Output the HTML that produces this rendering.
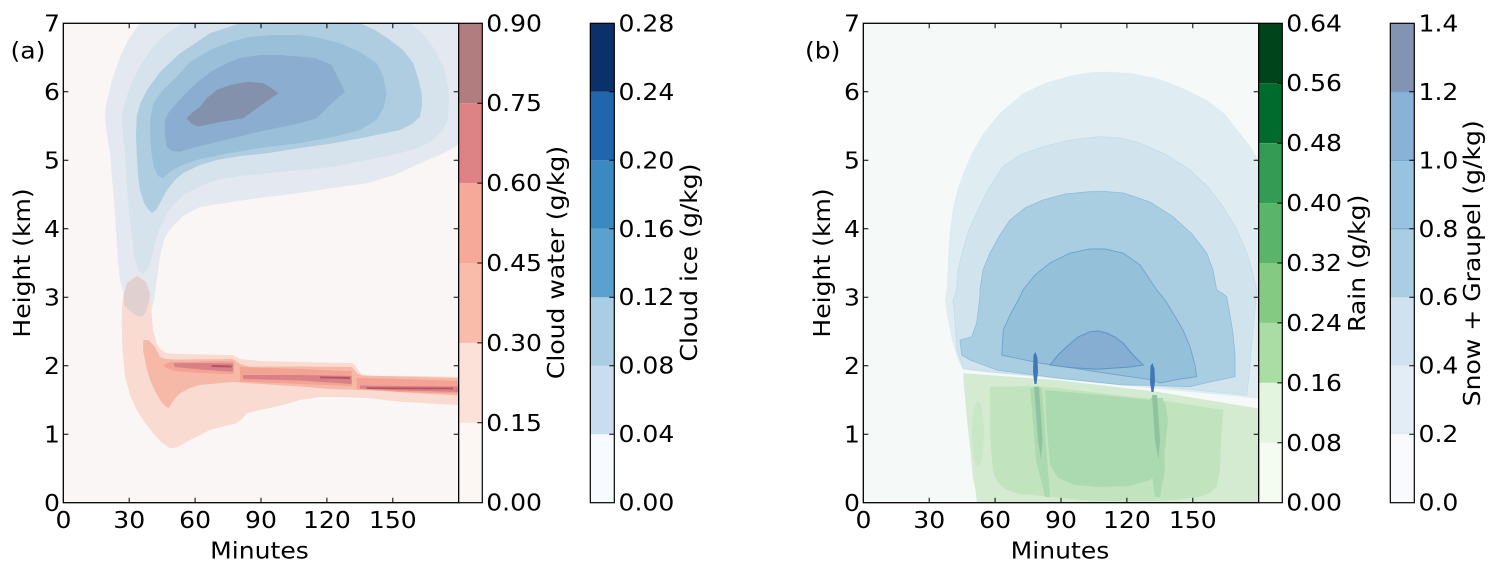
<!DOCTYPE html>
<html><head><meta charset="utf-8"><style>
html,body{margin:0;padding:0;background:#fff;}
svg{display:block;}
text{font-family:"DejaVu Sans","Liberation Sans",sans-serif;font-size:23px;fill:#000;}
</style></head><body>
<svg width="1499" height="572" viewBox="0 0 1499 572" xmlns="http://www.w3.org/2000/svg">
<defs>
<clipPath id="ca"><rect x="63.3" y="23.3" width="395.4" height="479.4"/></clipPath>
<clipPath id="cb"><rect x="863.3" y="23.3" width="395.4" height="479.4"/></clipPath>
</defs>
<rect width="1499" height="572" fill="#fff"/>

<!-- ===== Panel A ===== -->
<g clip-path="url(#ca)">
<rect x="63.3" y="23.3" width="395.4" height="479.4" fill="#faf6f5"/>
<!-- cloud ice -->
<polygon fill="#e4e9f1" points="140,23.3 128,40 120,57 112,80 106,105 105,117 107,135 110,153 113,190 116,230 118,262 120,280 124,295 132,308 140,315 147,317 151,312 154,300 157,280 160,256 164,240 168,232 175,224 183,216 200,207 233,201.7 266.7,197 300,193 333,188 366.7,183.3 395,175 420,163.3 440,155 458.7,145 458.7,23.3"/>
<polygon fill="#d6e2ec" points="181.7,23.3 165,35 150,50 138,70 130,86.7 124,105 121.7,116.7 123,135 125,153 127,190 130,220 134,255 138,270 142.7,274 147,270 151,260 155,243 160,228 167,213 175,203 185,194 193.3,190 205,184 216.7,180 240,176 266.7,173.3 300,170 333.3,166.7 366.7,160 400,153.3 420,147 433,140 443,130 448,120 449,100 448,87 444,68 435,50 425,36 415,27 410,23.3"/>
<polygon fill="#aecde0" points="240,23.3 210,33.3 180,53.3 160,72 147,90 140,104 136.7,116.7 136,135 136.7,153 138,175 140,190 144,203 148,209 152,213 156,210 160,203 167,190 175,180 183,173 200,165 216.7,160 240,156 266.7,153.3 300,148 333.3,143.3 366.7,137 400,130 412,124 420,116.7 422,105 421.7,93.3 418,78 413.3,63.3 403,50 390,40 375,30 360,23.3"/>
<polygon fill="#9abfd8" points="153.3,103.3 150,120 150.5,140 151.7,155 154,167 158,176 163,178 170,172 180,166 200,159 230,153 266.7,147 300,143 333.3,137 360,130 376.7,120 384,107 386.7,93.3 383,76 376.7,63.3 360,52 340,43.3 320,38 300,35 275,35 250,36.7 230,42 210,50 190,62 176.7,76.7 163,90"/>
<polygon fill="#8aadd0" points="165,120 165,133.3 166.7,146.7 172,151 180,151.7 200,146 233.3,138 266.7,130 300,123.3 316.7,118.3 330,105 345,91.7 338,78 331.7,65 315,58 300,56.7 280,55 260,55 240,58 226.7,63.3 212,71 200,80 188,91 176.7,103.3 169,112"/>
<polygon fill="#8391ad" points="186.7,118.3 192,124 198,126.5 220,122 243.3,118.3 260,106 278.3,93.3 270,87 263.3,83.3 246.7,81.7 230,85 216.7,90 207,98 200,106.7 193,112"/>
<!-- cloud water -->
<polygon fill="#fadbd2" points="136.7,275 130,280 124,292 122,305 121.7,326.7 122.5,350 125,376.7 130,395 136.7,410 145,423 153.3,433.3 161,442 170,448.3 177,447.5 186.7,441.7 200,435 210,430 225,426 236.7,423.3 243,418 246.7,413.3 260,410 275,407 290,403 300,400 320,397 340,397 366.7,398 400,401.7 430,403.5 458.7,405 458.7,377 420,376 370,376 361,374 358,370 354,364 351.7,363 300,362 260,361 240,359 233,355 200,354.5 186.7,354.3 166.7,353.3 160,349 156.7,343.3 153,330 151.7,315 150,293 145,281"/>
<polygon fill="#e1d0d0" points="127,283 123.5,296 124,305 130,311 137,316 141.7,316.7 146,312 149,300 150,293 146,282 137,276"/>
<polygon fill="#f7b9a7" points="143.3,340 148.3,340 155,346.7 160,356.7 165,359 175,359.5 233,359 240,364 250,366.7 300,366.5 345,367 352,367 357,373 362,375.5 400,376.5 458.7,378 458.7,395.5 430,394 400,392 360,390 330,389 300,386.5 260,384 233,382 200,385 190,388 180,393.3 174,400 170,406 168.3,408.3 164,405 160,400 155,391 150,380 146.5,368 145,360 143,350"/>
<g fill="#f4a293">
<polygon points="163.3,365 170,362 200,361.5 233.3,361 233.3,374 200,373 175,371 166,368"/>
<polygon points="240,367 300,369 351.7,371 351.7,386 300,384 240,381.5"/>
<polygon points="356.7,378 400,379 458.7,381 458.7,393.5 400,392 356.7,389"/>
</g>
<g fill="#da8088">
<polygon points="173.3,363.3 200,363 233.3,363.5 233.3,371.7 200,369.5 175,367"/>
<polygon points="243,375 300,375 351.7,376 351.7,384 300,380.5 243,379"/>
<polygon points="360,385.5 400,386 458.7,386.5 458.7,392 400,390.5 360,388.5"/>
</g>
<g fill="#b05464">
<polygon points="211.7,365 231.7,365.5 231.7,367.5 211.7,367"/>
<polygon points="320,376.5 350,377 350,379 320,378.3"/>
<polygon points="366.7,387.3 453,387.6 453,389.3 366.7,389"/>
</g>
</g>
<!-- Panel A frame & ticks -->
<rect x="63.3" y="23.3" width="395.4" height="479.4" fill="none" stroke="#000" stroke-width="1.3"/>
<g stroke="#000" stroke-width="1">
<path d="M129.2 502.7v-5M195.1 502.7v-5M261 502.7v-5M326.9 502.7v-5M392.8 502.7v-5M129.2 23.3v5M195.1 23.3v5M261 23.3v5M326.9 23.3v5M392.8 23.3v5"/>
<path d="M63.3 434.2h5M63.3 365.7h5M63.3 297.2h5M63.3 228.8h5M63.3 160.3h5M63.3 91.8h5M458.7 434.2h-5M458.7 365.7h-5M458.7 297.2h-5M458.7 228.8h-5M458.7 160.3h-5M458.7 91.8h-5"/>
</g>
<!-- Cloud water colorbar -->
<g>
<rect x="458.7" y="422.8" width="23.6" height="79.9" fill="#fdf7f4"/>
<rect x="458.7" y="342.9" width="23.6" height="79.9" fill="#fbe1d8"/>
<rect x="458.7" y="263.0" width="23.6" height="79.9" fill="#f9bcaa"/>
<rect x="458.7" y="183.1" width="23.6" height="79.9" fill="#f7a999"/>
<rect x="458.7" y="103.2" width="23.6" height="79.9" fill="#de8385"/>
<rect x="458.7" y="23.3" width="23.6" height="79.9" fill="#b17d7e"/>
<rect x="458.7" y="23.3" width="23.6" height="479.4" fill="none" stroke="#000" stroke-width="1.2"/>
<path d="M482.3 422.8h-5M482.3 342.9h-5M482.3 263h-5M482.3 183.1h-5M482.3 103.2h-5" stroke="#000" stroke-width="1"/>
</g>
<!-- Cloud ice colorbar -->
<g>
<rect x="590.3" y="434.2" width="24" height="68.5" fill="#f7fbff"/>
<rect x="590.3" y="365.7" width="24" height="68.5" fill="#cadcef"/>
<rect x="590.3" y="297.2" width="24" height="68.5" fill="#a9cee4"/>
<rect x="590.3" y="228.8" width="24" height="68.5" fill="#5aa1cf"/>
<rect x="590.3" y="160.3" width="24" height="68.5" fill="#3a89c1"/>
<rect x="590.3" y="91.8" width="24" height="68.5" fill="#1f66ac"/>
<rect x="590.3" y="23.3" width="24" height="68.5" fill="#0b306a"/>
<rect x="590.3" y="23.3" width="24" height="479.4" fill="none" stroke="#000" stroke-width="1.2"/>
<path d="M614.3 434.2h-5M614.3 365.7h-5M614.3 297.2h-5M614.3 228.8h-5M614.3 160.3h-5M614.3 91.8h-5" stroke="#000" stroke-width="1"/>
</g>

<!-- ===== Panel B ===== -->
<g clip-path="url(#cb)">
<rect x="863.3" y="23.3" width="395.4" height="479.4" fill="#f5f9f8"/>
<!-- rain -->
<polygon fill="#d4ebd1" points="963.3,373.3 1056.7,380 1156.7,391.7 1256.7,408.3 1258.7,408.5 1258.7,502.7 977,502.7 975,486.7 973.3,480 970,446.7 967,420 965,396.7 963.5,380"/>
<polygon fill="#c1e4be" points="990,386.7 1040,386 1100,393 1160,400 1223.3,410 1221.7,430 1220,470 1216.7,486.7 1210,493 1200,496.7 1173.3,500 1150,501 1110,501 1080,500 1050,496.7 1020,494 1006.7,490 998,483 993.3,473.3 991,450 990,430"/>
<ellipse cx="978" cy="434" rx="6" ry="32" fill="#c8e7c4"/>
<polygon fill="#acdab0" points="1045,390 1100,395 1150,400 1165,402 1168,420 1165,450 1160,470 1150,480 1130,486 1100,487 1075,485 1058,478 1050,465 1047,430"/>
<polygon fill="#acdab0" points="1030,388 1042,388 1048,470 1050,497 1045,497 1036,460"/>
<polygon fill="#acdab0" points="1150,398 1163,398 1165,470 1160,497 1155,497 1150,460"/>
<polygon fill="#8fc3a0" points="1034,386.7 1039,386.7 1042.5,440 1041,460 1038,440"/>
<polygon fill="#8fc3a0" points="1152,395 1157,395 1160,440 1158.5,460 1155,440"/>
<!-- snow + graupel -->
<polygon fill="#dfecf2" points="946.7,290 948,260 950,230 953.3,206.7 958,188 963.3,173.3 972,153 983.3,133.3 1000,113 1023.3,93.3 1045,83 1073.3,75 1090,72.5 1106.7,71.7 1130,73 1156.7,78.3 1180,87 1206.7,100 1225,114 1240,133.3 1250,146 1258.7,160 1258.7,398.5 963.3,370 958,360 952,340 947,315 945,300"/>
<polygon fill="#d1e4ee" stroke="#c3dbea" stroke-width="0.8" points="956.7,290 958,270 963,250 969,230 976.7,213 988,190 1003,166.7 1020,155 1043,146.7 1070,140 1100,136.7 1120,138 1140,143.3 1165,154 1190,170 1208,187 1223,206.7 1236,228 1246.7,253 1252,270 1256.7,290 1255,310 1253,330 1251,350 1250,366.7 1246.7,395 1206.7,391 1156.7,386 1056.7,377 990,372 963.3,368 957,350 955,320 953,300"/>
<polygon fill="#a9cde1" stroke="#8fbcdb" stroke-width="0.8" points="980,290 983,270 990,253 1000,235 1010,220 1025,208 1043,200 1065,194 1090,191.7 1105,191.5 1123.3,193 1150,202 1173,216.7 1192,234 1206.7,253 1213,270 1216.7,290 1222,293 1226.7,296.7 1230,315 1233,333 1235,355 1235,376.7 1210,382 1190,386.7 1160,385.5 1123,385 1057,378 997,370 970,360 961.7,355 960,340 971.7,336.7 976.7,323 980,296.7"/>
<polygon fill="#94c0da" stroke="#6fa3cf" stroke-width="0.9" points="1023,290 1035,275 1050,263 1070,253 1090,249 1105,249 1123,253 1140,265 1156.7,290 1165,300 1173,313 1183,330 1190,346.7 1195,365 1196.7,376.7 1180,379 1160,383 1153,380 1106.7,373.3 1060,366 1040,363 1033,361.7 1001.7,355 1003.3,330 1010,315 1020,296.7"/>
<polygon fill="#86aed2" stroke="#5e93c6" stroke-width="1" points="1050,365 1058,355 1066.7,346.7 1078,337 1090,331.7 1098,331 1106.7,333 1115,337 1123,343 1133,355 1143.3,365 1130,367 1096.7,369.3 1070,367.5"/>
<polygon fill="#3f78b3" points="1033.5,355 1035.5,352 1037.5,358 1038,372 1036.5,384 1034.5,384 1033,372"/>
<polygon fill="#3f78b3" points="1150.5,366 1152.5,363 1154.5,369 1155,382 1153.5,392 1151.5,392 1150,382"/>
</g>
<!-- Panel B frame & ticks -->
<rect x="863.3" y="23.3" width="395.4" height="479.4" fill="none" stroke="#000" stroke-width="1.3"/>
<g stroke="#000" stroke-width="1">
<path d="M929.2 502.7v-5M995.1 502.7v-5M1061 502.7v-5M1126.9 502.7v-5M1192.8 502.7v-5M929.2 23.3v5M995.1 23.3v5M1061 23.3v5M1126.9 23.3v5M1192.8 23.3v5"/>
<path d="M863.3 434.2h5M863.3 365.7h5M863.3 297.2h5M863.3 228.8h5M863.3 160.3h5M863.3 91.8h5M1258.7 434.2h-5M1258.7 365.7h-5M1258.7 297.2h-5M1258.7 228.8h-5M1258.7 160.3h-5M1258.7 91.8h-5"/>
</g>
<!-- Rain colorbar -->
<g>
<rect x="1258.7" y="442.8" width="23.6" height="59.9" fill="#f4fbf1"/>
<rect x="1258.7" y="382.9" width="23.6" height="59.9" fill="#e3f4df"/>
<rect x="1258.7" y="322.9" width="23.6" height="59.9" fill="#a9dda3"/>
<rect x="1258.7" y="263.0" width="23.6" height="59.9" fill="#84ca82"/>
<rect x="1258.7" y="203.1" width="23.6" height="59.9" fill="#5ab56a"/>
<rect x="1258.7" y="143.2" width="23.6" height="59.9" fill="#339b53"/>
<rect x="1258.7" y="83.2" width="23.6" height="59.9" fill="#016b2d"/>
<rect x="1258.7" y="23.3" width="23.6" height="59.9" fill="#00441b"/>
<rect x="1258.7" y="23.3" width="23.6" height="479.4" fill="none" stroke="#000" stroke-width="1.2"/>
<path d="M1282.3 442.8h-5M1282.3 382.9h-5M1282.3 322.9h-5M1282.3 263h-5M1282.3 203.1h-5M1282.3 143.2h-5M1282.3 83.2h-5" stroke="#000" stroke-width="1"/>
</g>
<!-- Snow colorbar -->
<g>
<rect x="1390.3" y="434.2" width="24" height="68.5" fill="#f8fafd"/>
<rect x="1390.3" y="365.7" width="24" height="68.5" fill="#e2edf6"/>
<rect x="1390.3" y="297.2" width="24" height="68.5" fill="#d0e2f0"/>
<rect x="1390.3" y="228.8" width="24" height="68.5" fill="#a9cde3"/>
<rect x="1390.3" y="160.3" width="24" height="68.5" fill="#98c2de"/>
<rect x="1390.3" y="91.8" width="24" height="68.5" fill="#89b2d6"/>
<rect x="1390.3" y="23.3" width="24" height="68.5" fill="#8294b2"/>
<path d="M1390.3 228.8h24M1390.3 160.3h24M1390.3 91.8h24" stroke="#6fa0cc" stroke-width="0.8"/>
<rect x="1390.3" y="23.3" width="24" height="479.4" fill="none" stroke="#000" stroke-width="1.2"/>
<path d="M1414.3 434.2h-5M1414.3 365.7h-5M1414.3 297.2h-5M1414.3 228.8h-5M1414.3 160.3h-5M1414.3 91.8h-5" stroke="#000" stroke-width="1"/>
</g>

<!-- ===== Text ===== -->
<g>
<!-- panel labels -->
<text transform="translate(10.5 58.5) scale(1.09 1)">(a)</text>
<text transform="translate(805 58.5) scale(1.09 1)">(b)</text>

<!-- Panel A y ticks -->
<g text-anchor="end">
<text transform="translate(60 511) scale(1.09 1)">0</text>
<text transform="translate(60 442.5) scale(1.09 1)">1</text>
<text transform="translate(60 374) scale(1.09 1)">2</text>
<text transform="translate(60 305.5) scale(1.09 1)">3</text>
<text transform="translate(60 237.1) scale(1.09 1)">4</text>
<text transform="translate(60 168.6) scale(1.09 1)">5</text>
<text transform="translate(60 100.1) scale(1.09 1)">6</text>
<text transform="translate(60 31.6) scale(1.09 1)">7</text>
</g>
<g text-anchor="end">
<text transform="translate(860 511) scale(1.09 1)">0</text>
<text transform="translate(860 442.5) scale(1.09 1)">1</text>
<text transform="translate(860 374) scale(1.09 1)">2</text>
<text transform="translate(860 305.5) scale(1.09 1)">3</text>
<text transform="translate(860 237.1) scale(1.09 1)">4</text>
<text transform="translate(860 168.6) scale(1.09 1)">5</text>
<text transform="translate(860 100.1) scale(1.09 1)">6</text>
<text transform="translate(860 31.6) scale(1.09 1)">7</text>
</g>
<!-- x ticks -->
<g text-anchor="middle">
<text transform="translate(63.5 528) scale(1.09 1)">0</text>
<text transform="translate(129.2 528) scale(1.09 1)">30</text>
<text transform="translate(195.1 528) scale(1.09 1)">60</text>
<text transform="translate(261 528) scale(1.09 1)">90</text>
<text transform="translate(326.9 528) scale(1.09 1)">120</text>
<text transform="translate(392.8 528) scale(1.09 1)">150</text>
<text transform="translate(863.5 528) scale(1.09 1)">0</text>
<text transform="translate(929.2 528) scale(1.09 1)">30</text>
<text transform="translate(995.1 528) scale(1.09 1)">60</text>
<text transform="translate(1061 528) scale(1.09 1)">90</text>
<text transform="translate(1126.9 528) scale(1.09 1)">120</text>
<text transform="translate(1192.8 528) scale(1.09 1)">150</text>
<text transform="translate(259.5 558.3) scale(1.09 1)">Minutes</text>
<text transform="translate(1060 558.3) scale(1.09 1)">Minutes</text>
<text transform="translate(30.2 263) rotate(-90) scale(1.09 1)">Height (km)</text>
<text transform="translate(830.2 263) rotate(-90) scale(1.09 1)">Height (km)</text>
<text transform="translate(564.2 262.5) rotate(-90) scale(1.09 1)">Cloud water (g/kg)</text>
<text transform="translate(696.8 262.5) rotate(-90) scale(1.09 1)">Cloud ice (g/kg)</text>
<text transform="translate(1364.8 263.3) rotate(-90) scale(1.09 1)">Rain (g/kg)</text>
<text transform="translate(1480.2 263.3) rotate(-90) scale(1.09 1)">Snow + Graupel (g/kg)</text>
</g>
<!-- cloud water cbar labels -->
<g>
<text transform="translate(486.2 510.7) scale(1.09 1)">0.00</text>
<text transform="translate(486.2 430.8) scale(1.09 1)">0.15</text>
<text transform="translate(486.2 350.9) scale(1.09 1)">0.30</text>
<text transform="translate(486.2 271) scale(1.09 1)">0.45</text>
<text transform="translate(486.2 191.1) scale(1.09 1)">0.60</text>
<text transform="translate(486.2 111.2) scale(1.09 1)">0.75</text>
<text transform="translate(486.2 31.3) scale(1.09 1)">0.90</text>
</g>
<g>
<text transform="translate(618.5 510.7) scale(1.09 1)">0.00</text>
<text transform="translate(618.5 442.2) scale(1.09 1)">0.04</text>
<text transform="translate(618.5 373.7) scale(1.09 1)">0.08</text>
<text transform="translate(618.5 305.2) scale(1.09 1)">0.12</text>
<text transform="translate(618.5 236.8) scale(1.09 1)">0.16</text>
<text transform="translate(618.5 168.3) scale(1.09 1)">0.20</text>
<text transform="translate(618.5 99.8) scale(1.09 1)">0.24</text>
<text transform="translate(618.5 31.3) scale(1.09 1)">0.28</text>
</g>
<g>
<text transform="translate(1286.2 510.7) scale(1.09 1)">0.00</text>
<text transform="translate(1286.2 450.8) scale(1.09 1)">0.08</text>
<text transform="translate(1286.2 390.9) scale(1.09 1)">0.16</text>
<text transform="translate(1286.2 330.9) scale(1.09 1)">0.24</text>
<text transform="translate(1286.2 271) scale(1.09 1)">0.32</text>
<text transform="translate(1286.2 211.1) scale(1.09 1)">0.40</text>
<text transform="translate(1286.2 151.2) scale(1.09 1)">0.48</text>
<text transform="translate(1286.2 91.2) scale(1.09 1)">0.56</text>
<text transform="translate(1286.2 31.3) scale(1.09 1)">0.64</text>
</g>
<g>
<text transform="translate(1418.5 510.7) scale(1.09 1)">0.0</text>
<text transform="translate(1418.5 442.2) scale(1.09 1)">0.2</text>
<text transform="translate(1418.5 373.7) scale(1.09 1)">0.4</text>
<text transform="translate(1418.5 305.2) scale(1.09 1)">0.6</text>
<text transform="translate(1418.5 236.8) scale(1.09 1)">0.8</text>
<text transform="translate(1418.5 168.3) scale(1.09 1)">1.0</text>
<text transform="translate(1418.5 99.8) scale(1.09 1)">1.2</text>
<text transform="translate(1418.5 31.3) scale(1.09 1)">1.4</text>
</g>
</g>
</svg>
</body></html>
